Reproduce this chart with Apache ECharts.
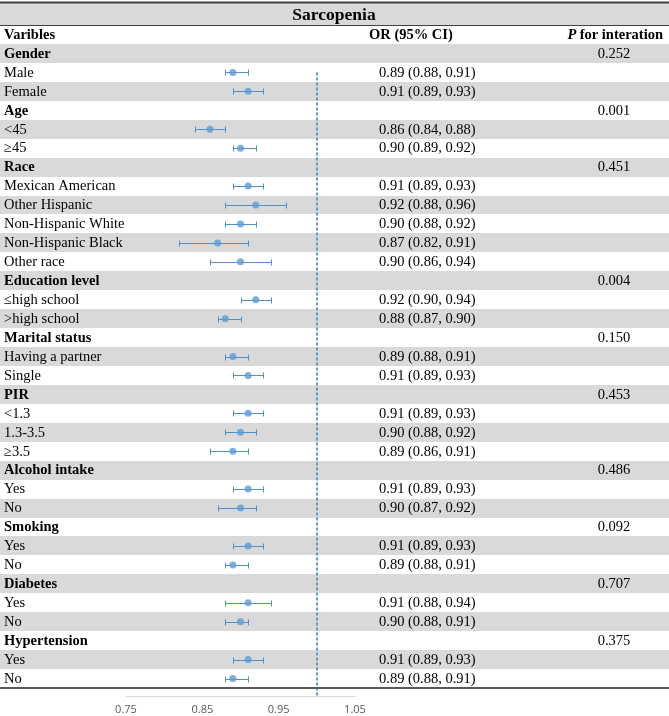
<!DOCTYPE html>
<html>
<head>
<meta charset="utf-8">
<script src="https://cdn.jsdelivr.net/npm/echarts@6/dist/echarts.min.js"></script>
<style>html,body{margin:0;padding:0;background:#fff}#chart{width:669px;height:716px}</style>
</head>
<body>
<div id="chart"></div>
<script>
// ---- data ----
const labels = ["Gender","Male","Female","Age","<45","≥45","Race","Mexican American","Other Hispanic","Non-Hispanic White","Non-Hispanic Black","Other race","Education level","≤high school",">high school","Marital status","Having a partner","Single","PIR","<1.3","1.3-3.5","≥3.5","Alcohol intake","Yes","No","Smoking","Yes","No","Diabetes","Yes","No","Hypertension","Yes","No"];
const isGroup = [1,0,0,1,0,0,1,0,0,0,0,0,1,0,0,1,0,0,1,0,0,0,1,0,0,1,0,0,1,0,0,1,0,0];
const orVal = [null,0.89,0.91,null,0.86,0.90,null,0.91,0.92,0.90,0.87,0.90,null,0.92,0.88,null,0.89,0.91,null,0.91,0.90,0.89,null,0.91,0.90,null,0.91,0.89,null,0.91,0.90,null,0.91,0.89];
const lowVal = [null,0.88,0.89,null,0.84,0.89,null,0.89,0.88,0.88,0.82,0.86,null,0.90,0.87,null,0.88,0.89,null,0.89,0.88,0.86,null,0.89,0.87,null,0.89,0.88,null,0.88,0.88,null,0.89,0.88];
const highVal = [null,0.91,0.93,null,0.88,0.92,null,0.93,0.96,0.92,0.91,0.94,null,0.94,0.90,null,0.91,0.93,null,0.93,0.92,0.91,null,0.93,0.92,null,0.93,0.91,null,0.94,0.91,null,0.93,0.91];
const pVal = ["0.252","","","0.001","","","0.451","","","","","","0.004","","","0.150","","","0.453","","","","0.486","","","0.092","","","0.707","","","0.375","",""];
const xTicks = [0.75, 0.85, 0.95, 1.05];
const refValue = 1.0;

const fmt = v => v.toFixed(2);
const orText = orVal.map((v,i) => v == null ? "" : fmt(v) + " (" + fmt(lowVal[i]) + ", " + fmt(highVal[i]) + ")");

const W = 669;
const serif = "'Liberation Serif','Times New Roman',serif";
const blue = "#5B9BD5";
const barBlue = "#4F8FCC";
const shade = "#d9d9d9";

const chart = echarts.init(document.getElementById('chart'), null, {renderer:'canvas'});

const rowData = labels.map((l,i) => [0.75, i]);
const ciData = [];
const ptData = [];
orVal.forEach((v,i) => { if (v != null) { ciData.push([lowVal[i], highVal[i], i]); ptData.push([v, i]); } });

const px = v => Math.round(v) + 0.5;

chart.setOption({
  animation: false,
  grid: {left: 126, right: W - 355, top: 44, bottom: 716 - 688},
  xAxis: {
    type: 'value', min: 0.75, max: 1.05, interval: 0.1,
    offset: 8,
    axisLine: {show: true, lineStyle: {color: '#d9d9d9', width: 1}},
    axisTick: {show: false},
    splitLine: {show: false},
    axisLabel: {color: '#595959', fontSize: 11, fontFamily: "'Open Sans','Liberation Sans',sans-serif", margin: 8,
      formatter: v => { const t = xTicks.find(x => Math.abs(x - v) < 1e-6); return t != null ? t.toFixed(2) : ''; }}
  },
  yAxis: {
    type: 'category', data: labels, inverse: true, show: false
  },
  graphic: [
    {type:'rect', shape:{x:0,y:2,width:W,height:23}, style:{fill:shade}, z:0},
    {type:'line', shape:{x1:0,y1:2.5,x2:W,y2:2.5}, style:{stroke:'#404040',lineWidth:2}, z:5},
    {type:'line', shape:{x1:0,y1:25.5,x2:W,y2:25.5}, style:{stroke:'#404040',lineWidth:1}, z:5},
    {type:'line', shape:{x1:0,y1:688,x2:W,y2:688}, style:{stroke:'#595959',lineWidth:2}, z:5},
    {type:'text', x:334, y:15, style:{text:'Sarcopenia', font:"bold 17.5px " + serif, fill:'#000', textAlign:'center', textVerticalAlign:'middle'}, z:6},
    {type:'text', x:4, y:35.5, style:{text:'Varibles', font:"bold 14.5px " + serif, fill:'#000', textAlign:'left', textVerticalAlign:'middle'}, z:6},
    {type:'text', x:369, y:35.5, style:{text:'OR (95% CI)', font:"bold 14.5px " + serif, fill:'#000', textAlign:'left', textVerticalAlign:'middle'}, z:6},
    {type:'text', x:663, y:35.5, style:{text:'{i|P} {b|for interation}', textAlign:'right', textVerticalAlign:'middle',
      rich:{i:{fontFamily:serif, fontWeight:'bold', fontStyle:'italic', fontSize:14.5, fill:'#000'}, b:{fontFamily:serif, fontWeight:'bold', fontSize:14.5, fill:'#000'}}}, z:6}
  ],
  series: [
    {
      type: 'custom', name: 'rows', data: rowData, clip: false, z: 1,
      renderItem: (params, api) => {
        const i = api.value(1);
        const c = api.coord([0.75, i]);
        const h = api.size([0, 1])[1];
        const y = c[1];
        const children = [];
        if (i % 2 === 0) children.push({type:'rect', shape:{x:0, y:Math.round(y - h/2), width:W, height:Math.round(y + h/2) - Math.round(y - h/2)}, style:{fill:shade}, z2:0});
        children.push({type:'text', x:4, y:y + 0.5, style:{text:labels[i], font:(isGroup[i] ? 'bold ' : '') + '14.5px ' + serif, fill:'#000', textAlign:'left', textVerticalAlign:'middle'}, z2:2});
        if (orText[i]) children.push({type:'text', x:379, y:y + 0.5, style:{text:orText[i], font:'14.5px ' + serif, fill:'#000', textAlign:'left', textVerticalAlign:'middle'}, z2:2});
        if (pVal[i]) children.push({type:'text', x:614, y:y + 0.5, style:{text:pVal[i], font:'14.5px ' + serif, fill:'#000', textAlign:'center', textVerticalAlign:'middle'}, z2:2});
        return {type:'group', children};
      }
    },
    {
      type: 'custom', name: 'ref', data: [[refValue, 1]], clip: false, z: 3,
      renderItem: (params, api) => {
        const p = api.coord([api.value(0), api.value(1)]);
        const bottom = params.coordSys.y + params.coordSys.height + 9;
        const x = Math.round(p[0]);
        return {type:'line', shape:{x1:x, y1:p[1], x2:x, y2:bottom}, style:{stroke:blue, lineWidth:2, lineDash:[3,2]}};
      }
    },
    {
      type: 'custom', name: 'ci', data: ciData, clip: false, z: 4,
      renderItem: (params, api) => {
        const a = api.coord([api.value(0), api.value(2)]);
        const b = api.coord([api.value(1), api.value(2)]);
        const y = px(a[1]);
        const xa = px(a[0]), xb = px(b[0]);
        const cap = 3;
        return {type:'group', children:[
          {type:'line', shape:{x1:xa, y1:y, x2:xb, y2:y}, style:{stroke:barBlue, lineWidth:1}},
          {type:'line', shape:{x1:xa, y1:y-cap, x2:xa, y2:y+cap}, style:{stroke:barBlue, lineWidth:1}},
          {type:'line', shape:{x1:xb, y1:y-cap, x2:xb, y2:y+cap}, style:{stroke:barBlue, lineWidth:1}}
        ]};
      }
    },
    {
      type: 'scatter', name: 'OR', data: ptData, symbol: 'circle', symbolSize: 7, z: 5,
      itemStyle: {color: blue}
    }
  ]
});
</script>
</body>
</html>
